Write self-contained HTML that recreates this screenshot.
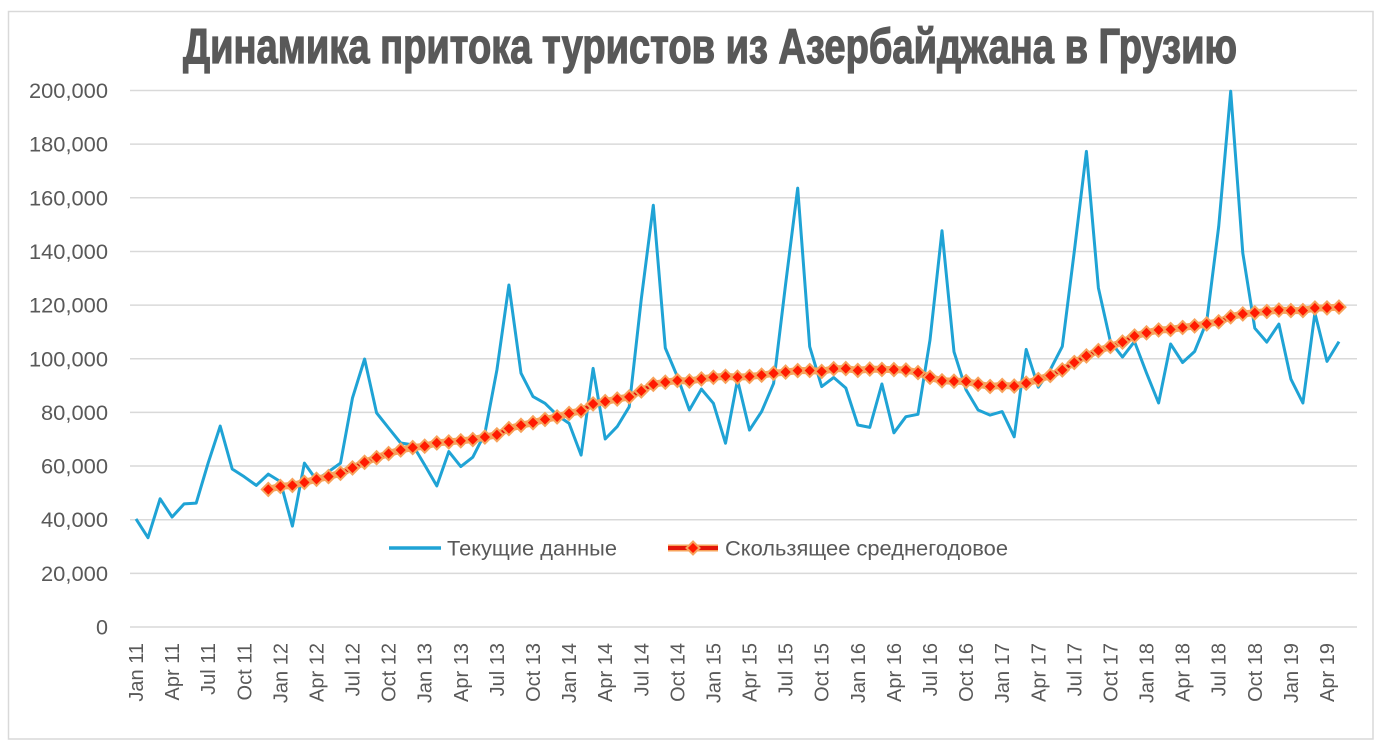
<!DOCTYPE html>
<html><head><meta charset="utf-8"><style>
html,body{margin:0;padding:0;background:#fff;}
svg{display:block;}
text{font-family:"Liberation Sans",sans-serif;fill:#595959;}
</style></head><body>
<svg width="1385" height="745" viewBox="0 0 1385 745" xmlns="http://www.w3.org/2000/svg">
<defs>
<path id="dm" d="M0,-6.5 L6.5,0 L0,6.5 L-6.5,0Z" fill="#ff1a00" stroke="#f7a35c" stroke-width="2"/>
</defs>
<rect x="0" y="0" width="1385" height="745" fill="#fff"/>
<rect x="8.5" y="11.5" width="1364.5" height="727.5" fill="none" stroke="#d9d9d9" stroke-width="1.5"/>
<text x="183" y="63" font-size="49" font-weight="bold" stroke="#595959" stroke-width="1.3" textLength="1054" lengthAdjust="spacingAndGlyphs">Динамика притока туристов из Азербайджана в Грузию</text>
<g stroke="#d9d9d9" stroke-width="1.5">
<line x1="130" y1="627" x2="1357" y2="627"/>
<line x1="130" y1="573.35" x2="1357" y2="573.35"/>
<line x1="130" y1="519.7" x2="1357" y2="519.7"/>
<line x1="130" y1="466.05" x2="1357" y2="466.05"/>
<line x1="130" y1="412.4" x2="1357" y2="412.4"/>
<line x1="130" y1="358.75" x2="1357" y2="358.75"/>
<line x1="130" y1="305.1" x2="1357" y2="305.1"/>
<line x1="130" y1="251.45" x2="1357" y2="251.45"/>
<line x1="130" y1="197.8" x2="1357" y2="197.8"/>
<line x1="130" y1="144.15" x2="1357" y2="144.15"/>
<line x1="130" y1="90.5" x2="1357" y2="90.5"/>
</g>
<g font-size="21" text-anchor="end">
<text x="108" y="634.5" textLength="12" lengthAdjust="spacingAndGlyphs">0</text>
<text x="108" y="580.9" textLength="67" lengthAdjust="spacingAndGlyphs">20,000</text>
<text x="108" y="527.2" textLength="67" lengthAdjust="spacingAndGlyphs">40,000</text>
<text x="108" y="473.6" textLength="67" lengthAdjust="spacingAndGlyphs">60,000</text>
<text x="108" y="419.9" textLength="67" lengthAdjust="spacingAndGlyphs">80,000</text>
<text x="108" y="366.3" textLength="79" lengthAdjust="spacingAndGlyphs">100,000</text>
<text x="108" y="312.6" textLength="79" lengthAdjust="spacingAndGlyphs">120,000</text>
<text x="108" y="259" textLength="79" lengthAdjust="spacingAndGlyphs">140,000</text>
<text x="108" y="205.3" textLength="79" lengthAdjust="spacingAndGlyphs">160,000</text>
<text x="108" y="151.7" textLength="79" lengthAdjust="spacingAndGlyphs">180,000</text>
<text x="108" y="98" textLength="79" lengthAdjust="spacingAndGlyphs">200,000</text>
</g>
<g font-size="20" text-anchor="end">
<text transform="translate(143,643) rotate(-90)">Jan 11</text>
<text transform="translate(179.1,643) rotate(-90)">Apr 11</text>
<text transform="translate(215.2,643) rotate(-90)">Jul 11</text>
<text transform="translate(251.3,643) rotate(-90)">Oct 11</text>
<text transform="translate(287.4,643) rotate(-90)">Jan 12</text>
<text transform="translate(323.5,643) rotate(-90)">Apr 12</text>
<text transform="translate(359.5,643) rotate(-90)">Jul 12</text>
<text transform="translate(395.6,643) rotate(-90)">Oct 12</text>
<text transform="translate(431.7,643) rotate(-90)">Jan 13</text>
<text transform="translate(467.8,643) rotate(-90)">Apr 13</text>
<text transform="translate(503.9,643) rotate(-90)">Jul 13</text>
<text transform="translate(540,643) rotate(-90)">Oct 13</text>
<text transform="translate(576.1,643) rotate(-90)">Jan 14</text>
<text transform="translate(612.2,643) rotate(-90)">Apr 14</text>
<text transform="translate(648.3,643) rotate(-90)">Jul 14</text>
<text transform="translate(684.4,643) rotate(-90)">Oct 14</text>
<text transform="translate(720.4,643) rotate(-90)">Jan 15</text>
<text transform="translate(756.5,643) rotate(-90)">Apr 15</text>
<text transform="translate(792.6,643) rotate(-90)">Jul 15</text>
<text transform="translate(828.7,643) rotate(-90)">Oct 15</text>
<text transform="translate(864.8,643) rotate(-90)">Jan 16</text>
<text transform="translate(900.9,643) rotate(-90)">Apr 16</text>
<text transform="translate(937,643) rotate(-90)">Jul 16</text>
<text transform="translate(973.1,643) rotate(-90)">Oct 16</text>
<text transform="translate(1009.2,643) rotate(-90)">Jan 17</text>
<text transform="translate(1045.3,643) rotate(-90)">Apr 17</text>
<text transform="translate(1081.3,643) rotate(-90)">Jul 17</text>
<text transform="translate(1117.4,643) rotate(-90)">Oct 17</text>
<text transform="translate(1153.5,643) rotate(-90)">Jan 18</text>
<text transform="translate(1189.6,643) rotate(-90)">Apr 18</text>
<text transform="translate(1225.7,643) rotate(-90)">Jul 18</text>
<text transform="translate(1261.8,643) rotate(-90)">Oct 18</text>
<text transform="translate(1297.9,643) rotate(-90)">Jan 19</text>
<text transform="translate(1334,643) rotate(-90)">Apr 19</text>
</g>
<polyline fill="none" stroke="#1fa3d5" stroke-width="3" stroke-linejoin="round" points="136.0,518.9 148.0,537.7 160.1,498.8 172.1,517.0 184.1,503.9 196.2,503.1 208.2,462.8 220.2,426.1 232.2,469.0 244.3,476.8 256.3,485.4 268.3,474.1 280.4,481.6 292.4,526.1 304.4,463.1 316.5,480.0 328.5,471.7 340.5,463.1 352.5,397.9 364.6,359.0 376.6,412.9 388.6,428.0 400.7,443.0 412.7,444.9 424.7,465.0 436.8,485.9 448.8,451.6 460.8,466.6 472.8,457.2 484.9,433.3 496.9,370.0 508.9,285.0 521.0,373.2 533.0,396.6 545.0,403.3 557.1,415.1 569.1,423.4 581.1,455.1 593.1,368.4 605.2,439.0 617.2,426.6 629.2,406.8 641.3,298.9 653.3,205.3 665.3,348.0 677.4,376.7 689.4,410.0 701.4,389.1 713.4,403.3 725.5,443.2 737.5,379.9 749.5,430.1 761.6,411.6 773.6,383.4 785.6,284.2 797.7,188.1 809.7,346.7 821.7,386.6 833.7,377.5 845.8,388.0 857.8,425.0 869.8,427.4 881.9,384.0 893.9,432.8 905.9,416.7 918.0,414.3 930.0,340.0 942.0,230.8 954.0,351.8 966.1,389.9 978.1,410.0 990.1,415.1 1002.2,411.6 1014.2,436.8 1026.2,349.4 1038.3,387.2 1050.3,369.7 1062.3,346.4 1074.3,251.4 1086.4,151.4 1098.4,287.9 1110.4,341.6 1122.5,357.1 1134.5,341.6 1146.5,373.0 1158.6,403.0 1170.6,344.0 1182.6,362.5 1194.6,351.5 1206.7,321.7 1218.7,226.5 1230.7,91.3 1242.8,253.1 1254.8,328.2 1266.8,342.1 1278.9,324.1 1290.9,379.1 1302.9,403.0 1314.9,313.1 1327.0,361.4 1339.0,341.6"/>
<g fill="none" stroke-linejoin="round">
<polyline stroke="#f7a35c" stroke-width="7" points="268.3,489.4 280.4,486.4 292.4,485.4 304.4,482.4 316.5,479.3 328.5,476.6 340.5,473.3 352.5,467.9 364.6,462.3 376.6,457.7 388.6,453.6 400.7,450.0 412.7,447.6 424.7,446.2 436.8,442.9 448.8,441.9 460.8,440.8 472.8,439.6 484.9,437.1 496.9,434.8 508.9,428.6 521.0,425.3 533.0,422.7 545.0,419.4 557.1,416.9 569.1,413.4 581.1,410.8 593.1,403.9 605.2,401.6 617.2,399.1 629.2,396.9 641.3,390.9 653.3,384.3 665.3,382.2 677.4,380.5 689.4,381.1 701.4,378.9 713.4,377.3 725.5,376.3 737.5,377.2 749.5,376.5 761.6,375.2 773.6,373.3 785.6,372.1 797.7,370.6 809.7,370.5 821.7,371.4 833.7,368.7 845.8,368.6 857.8,370.4 869.8,369.1 881.9,369.4 893.9,369.6 905.9,370.0 918.0,372.6 930.0,377.3 942.0,380.8 954.0,381.2 966.1,381.5 978.1,384.2 990.1,386.5 1002.2,385.4 1014.2,386.1 1026.2,383.2 1038.3,379.5 1050.3,375.5 1062.3,369.9 1074.3,362.5 1086.4,355.9 1098.4,350.6 1110.4,346.5 1122.5,342.1 1134.5,336.0 1146.5,332.8 1158.6,330.0 1170.6,329.5 1182.6,327.5 1194.6,325.9 1206.7,323.9 1218.7,321.8 1230.7,316.8 1242.8,313.9 1254.8,312.8 1266.8,311.5 1278.9,310.1 1290.9,310.6 1302.9,310.6 1314.9,308.0 1327.0,307.9 1339.0,307.1"/>
<polyline stroke="#e3170a" stroke-width="3.5" points="268.3,489.4 280.4,486.4 292.4,485.4 304.4,482.4 316.5,479.3 328.5,476.6 340.5,473.3 352.5,467.9 364.6,462.3 376.6,457.7 388.6,453.6 400.7,450.0 412.7,447.6 424.7,446.2 436.8,442.9 448.8,441.9 460.8,440.8 472.8,439.6 484.9,437.1 496.9,434.8 508.9,428.6 521.0,425.3 533.0,422.7 545.0,419.4 557.1,416.9 569.1,413.4 581.1,410.8 593.1,403.9 605.2,401.6 617.2,399.1 629.2,396.9 641.3,390.9 653.3,384.3 665.3,382.2 677.4,380.5 689.4,381.1 701.4,378.9 713.4,377.3 725.5,376.3 737.5,377.2 749.5,376.5 761.6,375.2 773.6,373.3 785.6,372.1 797.7,370.6 809.7,370.5 821.7,371.4 833.7,368.7 845.8,368.6 857.8,370.4 869.8,369.1 881.9,369.4 893.9,369.6 905.9,370.0 918.0,372.6 930.0,377.3 942.0,380.8 954.0,381.2 966.1,381.5 978.1,384.2 990.1,386.5 1002.2,385.4 1014.2,386.1 1026.2,383.2 1038.3,379.5 1050.3,375.5 1062.3,369.9 1074.3,362.5 1086.4,355.9 1098.4,350.6 1110.4,346.5 1122.5,342.1 1134.5,336.0 1146.5,332.8 1158.6,330.0 1170.6,329.5 1182.6,327.5 1194.6,325.9 1206.7,323.9 1218.7,321.8 1230.7,316.8 1242.8,313.9 1254.8,312.8 1266.8,311.5 1278.9,310.1 1290.9,310.6 1302.9,310.6 1314.9,308.0 1327.0,307.9 1339.0,307.1"/>
</g>
<g>
<use href="#dm" x="268.3" y="489.4"/><use href="#dm" x="280.4" y="486.4"/><use href="#dm" x="292.4" y="485.4"/><use href="#dm" x="304.4" y="482.4"/><use href="#dm" x="316.5" y="479.3"/><use href="#dm" x="328.5" y="476.6"/><use href="#dm" x="340.5" y="473.3"/><use href="#dm" x="352.5" y="467.9"/><use href="#dm" x="364.6" y="462.3"/><use href="#dm" x="376.6" y="457.7"/>
<use href="#dm" x="388.6" y="453.6"/><use href="#dm" x="400.7" y="450.0"/><use href="#dm" x="412.7" y="447.6"/><use href="#dm" x="424.7" y="446.2"/><use href="#dm" x="436.8" y="442.9"/><use href="#dm" x="448.8" y="441.9"/><use href="#dm" x="460.8" y="440.8"/><use href="#dm" x="472.8" y="439.6"/><use href="#dm" x="484.9" y="437.1"/><use href="#dm" x="496.9" y="434.8"/>
<use href="#dm" x="508.9" y="428.6"/><use href="#dm" x="521.0" y="425.3"/><use href="#dm" x="533.0" y="422.7"/><use href="#dm" x="545.0" y="419.4"/><use href="#dm" x="557.1" y="416.9"/><use href="#dm" x="569.1" y="413.4"/><use href="#dm" x="581.1" y="410.8"/><use href="#dm" x="593.1" y="403.9"/><use href="#dm" x="605.2" y="401.6"/><use href="#dm" x="617.2" y="399.1"/>
<use href="#dm" x="629.2" y="396.9"/><use href="#dm" x="641.3" y="390.9"/><use href="#dm" x="653.3" y="384.3"/><use href="#dm" x="665.3" y="382.2"/><use href="#dm" x="677.4" y="380.5"/><use href="#dm" x="689.4" y="381.1"/><use href="#dm" x="701.4" y="378.9"/><use href="#dm" x="713.4" y="377.3"/><use href="#dm" x="725.5" y="376.3"/><use href="#dm" x="737.5" y="377.2"/>
<use href="#dm" x="749.5" y="376.5"/><use href="#dm" x="761.6" y="375.2"/><use href="#dm" x="773.6" y="373.3"/><use href="#dm" x="785.6" y="372.1"/><use href="#dm" x="797.7" y="370.6"/><use href="#dm" x="809.7" y="370.5"/><use href="#dm" x="821.7" y="371.4"/><use href="#dm" x="833.7" y="368.7"/><use href="#dm" x="845.8" y="368.6"/><use href="#dm" x="857.8" y="370.4"/>
<use href="#dm" x="869.8" y="369.1"/><use href="#dm" x="881.9" y="369.4"/><use href="#dm" x="893.9" y="369.6"/><use href="#dm" x="905.9" y="370.0"/><use href="#dm" x="918.0" y="372.6"/><use href="#dm" x="930.0" y="377.3"/><use href="#dm" x="942.0" y="380.8"/><use href="#dm" x="954.0" y="381.2"/><use href="#dm" x="966.1" y="381.5"/><use href="#dm" x="978.1" y="384.2"/>
<use href="#dm" x="990.1" y="386.5"/><use href="#dm" x="1002.2" y="385.4"/><use href="#dm" x="1014.2" y="386.1"/><use href="#dm" x="1026.2" y="383.2"/><use href="#dm" x="1038.3" y="379.5"/><use href="#dm" x="1050.3" y="375.5"/><use href="#dm" x="1062.3" y="369.9"/><use href="#dm" x="1074.3" y="362.5"/><use href="#dm" x="1086.4" y="355.9"/><use href="#dm" x="1098.4" y="350.6"/>
<use href="#dm" x="1110.4" y="346.5"/><use href="#dm" x="1122.5" y="342.1"/><use href="#dm" x="1134.5" y="336.0"/><use href="#dm" x="1146.5" y="332.8"/><use href="#dm" x="1158.6" y="330.0"/><use href="#dm" x="1170.6" y="329.5"/><use href="#dm" x="1182.6" y="327.5"/><use href="#dm" x="1194.6" y="325.9"/><use href="#dm" x="1206.7" y="323.9"/><use href="#dm" x="1218.7" y="321.8"/>
<use href="#dm" x="1230.7" y="316.8"/><use href="#dm" x="1242.8" y="313.9"/><use href="#dm" x="1254.8" y="312.8"/><use href="#dm" x="1266.8" y="311.5"/><use href="#dm" x="1278.9" y="310.1"/><use href="#dm" x="1290.9" y="310.6"/><use href="#dm" x="1302.9" y="310.6"/><use href="#dm" x="1314.9" y="308.0"/><use href="#dm" x="1327.0" y="307.9"/><use href="#dm" x="1339.0" y="307.1"/>
</g>
<line x1="389" y1="548" x2="441" y2="548" stroke="#1fa3d5" stroke-width="3.5"/>
<text x="447" y="555.5" font-size="21" textLength="170" lengthAdjust="spacingAndGlyphs">Текущие данные</text>
<line x1="668" y1="548" x2="718" y2="548" stroke="#f7a35c" stroke-width="7"/>
<line x1="668" y1="548" x2="718" y2="548" stroke="#e3170a" stroke-width="4"/>
<use href="#dm" x="693" y="548"/>
<text x="725" y="555.5" font-size="21" textLength="283" lengthAdjust="spacingAndGlyphs">Скользящее среднегодовое</text>
</svg>
</body></html>
